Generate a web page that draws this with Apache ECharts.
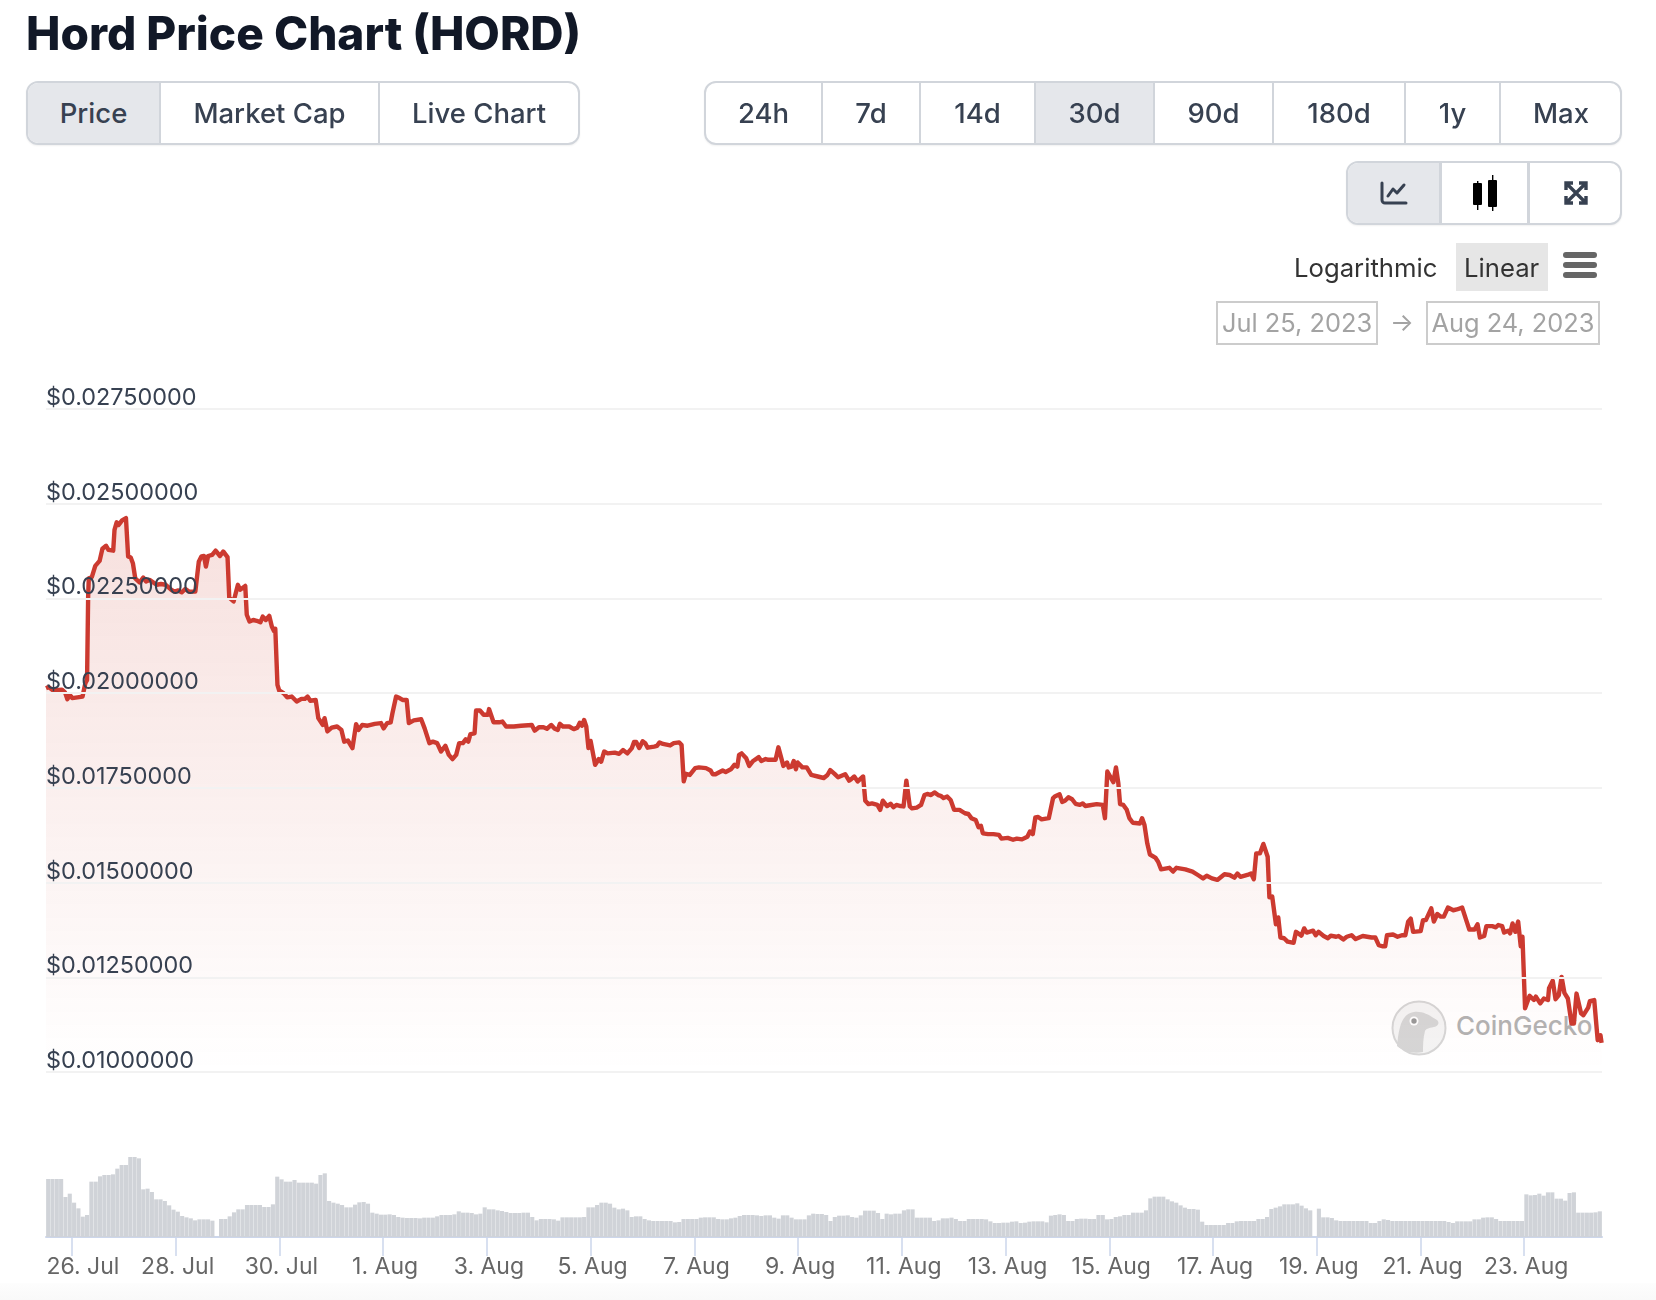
<!DOCTYPE html>
<html><head><meta charset="utf-8"><title>Hord Price Chart (HORD)</title>
<script src="https://cdn.jsdelivr.net/npm/echarts@6/dist/echarts.min.js"></script>
<style>
html,body{margin:0;padding:0;background:#fff;width:1656px;height:1300px;overflow:hidden;font-family:Inter,sans-serif}
#wm,#chart,.abs{position:absolute}
#chart{left:0;top:0;width:1656px;height:1300px;z-index:1}
#band{position:absolute;left:0;top:1283px;width:1656px;height:17px;background:linear-gradient(#fdfdfd,#f9f9f9)}
.grp{position:absolute;box-sizing:border-box;border:2px solid #d1d5db;border-radius:12px;background:#fff;box-shadow:0 1px 2px rgba(0,0,0,.06);overflow:hidden;z-index:2}
.btn{position:absolute;top:0;bottom:0;box-sizing:border-box;display:flex;align-items:center;justify-content:center;color:#374151;font-size:27.5px;font-weight:500;border-right:2px solid #d1d5db}
.btn.last{border-right:none}
.btn.on{background:#e5e7eb}
.txt{position:absolute;z-index:2;white-space:nowrap}
.box{position:absolute;box-sizing:border-box;border:2px solid #ccc;color:#a3a3a3;font-size:25.4px;padding-bottom:2px;display:flex;align-items:center;justify-content:center;z-index:2}
.hb{position:absolute;left:1563px;width:34px;height:6px;border-radius:3px;background:#666;z-index:2}
</style></head><body>
<div id="band"></div>
<svg id="wm" style="left:1390px;top:998px;z-index:0" width="60" height="60" viewBox="0 0 60 60">
<circle cx="29" cy="30" r="26.5" fill="#f4f4f4" stroke="#d6d6d6" stroke-width="2"/>
<path d="M7 48 C9 30 11 16 24 14 C34 13 40 18 47 22 C50 25 48 28 44 29 C38 30 36 31 35 33 C33 40 33 48 33 54 C22 56 13 53 7 48Z" fill="#d6d6d6"/>
<circle cx="24" cy="23" r="4.5" fill="#fff"/><circle cx="24" cy="23" r="2.7" fill="#999"/>
</svg>
<div class="txt" id="wmt" style="left:1456px;top:1010px;font-size:26px;font-weight:500;color:#b3b3b3;z-index:0">CoinGecko</div>
<div id="chart"></div>

<div class="grp" style="left:26px;top:81px;width:554px;height:64px">
<div class="btn on" style="left:0;width:133px">Price</div>
<div class="btn" style="left:133px;width:219px">Market Cap</div>
<div class="btn last" style="left:352px;width:198px">Live Chart</div></div>

<div class="grp" style="left:704px;top:81px;width:918px;height:64px">
<div class="btn" style="left:0;width:117px">24h</div>
<div class="btn" style="left:117px;width:98px">7d</div>
<div class="btn" style="left:215px;width:115px">14d</div>
<div class="btn on" style="left:330px;width:119px">30d</div>
<div class="btn" style="left:449px;width:119px">90d</div>
<div class="btn" style="left:568px;width:132px">180d</div>
<div class="btn" style="left:700px;width:95px">1y</div>
<div class="btn last" style="left:795px;width:120px">Max</div></div>

<div class="grp" style="left:1346px;top:161px;width:276px;height:64px">
<div class="btn on" style="left:0;width:94px;border-right-width:3px"><svg width="28" height="24" viewBox="0 0 28 24" fill="none" stroke="#374151" stroke-width="3" stroke-linecap="round" stroke-linejoin="round"><path d="M2 2V19a3 3 0 0 0 3 3H26"/><path d="M8 15L13 8L17 12L24 4"/></svg></div>
<div class="btn" style="left:94px;width:88px;border-right-width:3px"><svg width="28" height="36" viewBox="0 0 28 36"><rect x="2" y="8" width="9" height="22" fill="#000" rx="1"/><rect x="6" y="6" width="1.4" height="29" fill="#000"/><rect x="17" y="5" width="9" height="27" fill="#000" rx="1"/><rect x="21" y="0" width="1.4" height="36" fill="#000"/></svg></div>
<div class="btn last" style="left:182px;width:92px"><svg width="24" height="24" viewBox="0 0 24 24" fill="none" stroke="#374151" stroke-width="3.4"><path d="M2 9V2H9M15 2H22V9M22 15V22H15M9 22H2V15M3 3L21 21M21 3L3 21"/></svg></div></div>

<div class="txt" style="left:1294px;top:252px;font-size:25.7px;color:#333">Logarithmic</div>
<div class="abs" style="left:1456px;top:243px;width:92px;height:48px;background:#e6e6e6;z-index:1"></div>
<div class="txt" style="left:1464px;top:252px;font-size:25.7px;color:#333">Linear</div>
<div class="hb" style="top:252px"></div><div class="hb" style="top:262px"></div><div class="hb" style="top:272px"></div>
<div class="box" style="left:1216px;top:301px;width:162px;height:44px">Jul 25, 2023</div>
<div class="txt" style="left:1390px;top:307px;font-size:25px;color:#a3a3a3">→</div>
<div class="box" style="left:1426px;top:301px;width:174px;height:44px">Aug 24, 2023</div>

<script>
// Price: [hours after 25 Jul 12:00 UTC, USD]
const pricePoints = [
[0,0.02013],[1.2,0.02016],[3.3,0.02007],[7.4,0.02009],[8.8,0.02002],[9.9,0.01984],[11.1,0.01995],[12.1,0.01987],[16.9,0.01991],[18.2,0.02026],[19,0.02035],[19.5,0.02255],[19.8,0.02303],[21.2,0.02306],[22.8,0.02336],[24.8,0.02349],[26.1,0.02381],[27.8,0.02389],[28.9,0.02378],[31.1,0.02376],[31.7,0.02431],[32.7,0.02451],[33.6,0.02444],[35.2,0.02456],[37,0.02462],[38,0.02361],[39.2,0.02358],[40.2,0.02343],[41.3,0.02303],[43.3,0.02292],[45,0.02305],[46.3,0.02295],[47.9,0.02299],[51.2,0.02286],[53.2,0.02288],[55.4,0.02286],[57.9,0.02273],[59.5,0.02268],[61.2,0.02271],[62.8,0.02266],[64.5,0.02275],[66.1,0.02268],[69.1,0.02268],[70.7,0.02347],[71.9,0.02361],[73.1,0.02362],[74,0.02334],[75,0.02362],[76.9,0.02365],[78.5,0.02376],[80.5,0.02362],[82,0.02374],[84,0.02359],[84.8,0.02252],[86.8,0.02242],[88.8,0.02286],[89.8,0.02273],[92.2,0.02283],[92.9,0.02207],[94.2,0.02189],[95.9,0.02193],[97.5,0.02191],[98.3,0.02196],[99.2,0.02187],[100.3,0.02202],[101.7,0.02193],[103.3,0.02204],[104.5,0.02176],[105.5,0.02164],[106.1,0.0217],[107.1,0.02022],[107.9,0.02007],[109.9,0.02],[111.6,0.01989],[113.7,0.01991],[116,0.01978],[118.2,0.01985],[119.8,0.01985],[121,0.01991],[122.3,0.0198],[124.8,0.01982],[126,0.01934],[128.1,0.01916],[128.9,0.01934],[130.2,0.01899],[132.2,0.01909],[134.7,0.01912],[136.7,0.01903],[138,0.01872],[139.7,0.01875],[141.8,0.01855],[143.5,0.01918],[144.6,0.01903],[146.3,0.01916],[148.8,0.01914],[152.1,0.01919],[155,0.01921],[156.2,0.01907],[157.9,0.01921],[159.5,0.01923],[160.3,0.01947],[161,0.0195],[162,0.01991],[163.6,0.01987],[165,0.01982],[166.9,0.01982],[167.9,0.01921],[170.2,0.01928],[173.6,0.01931],[175.2,0.01907],[177.4,0.01868],[179,0.01872],[181,0.01868],[182.8,0.01846],[184.8,0.01861],[186.4,0.01837],[188.1,0.01826],[189.8,0.01837],[191.2,0.01868],[192.9,0.01868],[194.2,0.01878],[195.4,0.01872],[196.4,0.01892],[198.3,0.01894],[199,0.01954],[200.8,0.01954],[202.5,0.01943],[204.5,0.01943],[205,0.01958],[207.1,0.01923],[209.6,0.01923],[211.2,0.01925],[212.9,0.01912],[216.5,0.01912],[219.8,0.01914],[224.8,0.01916],[226.1,0.01901],[228.1,0.0191],
[230.2,0.0191],[231.8,0.01906],[233.8,0.01916],[235.4,0.01906],[236.8,0.01903],[237.8,0.01919],[239.2,0.01912],[242.1,0.01912],[244.2,0.01905],[245.9,0.01909],[247,0.01922],[248,0.01914],[249,0.01929],[250,0.01912],[251,0.01855],[252,0.01874],[254.1,0.01811],[254.9,0.01808],[255.8,0.01826],[256.9,0.01819],[258.3,0.01846],[259.9,0.01841],[263.2,0.01843],[264,0.01848],[265.2,0.0184],[267,0.0185],[269,0.01841],[271.1,0.01855],[272.1,0.01871],[273.1,0.01871],[274.5,0.01855],[276.1,0.01873],[277.3,0.01868],[278.4,0.01856],[281.4,0.01859],[282.7,0.01861],[283.9,0.0187],[285.5,0.01866],[288.8,0.01862],[290.5,0.01868],[293,0.0187],[294.1,0.01863],[295.1,0.01767],[296.1,0.01787],[297.9,0.01784],[300.4,0.01802],[302.1,0.01804],[305.4,0.01802],[307.5,0.01796],[308.5,0.01786],[309.8,0.01786],[311.1,0.0179],[312,0.01786],[313.1,0.01796],[314.5,0.01792],[316.9,0.01799],[318.6,0.01811],[319.9,0.01806],[320.7,0.01837],[321.9,0.01841],[324,0.01828],[325.4,0.01808],[327.2,0.01821],[328.5,0.01826],[329.8,0.01831],[331,0.01821],[333,0.01826],[334.3,0.01824],[335.9,0.01824],[336.8,0.01826],[337.6,0.01824],[338.9,0.01857],[341.2,0.01808],[342.9,0.01817],[343.7,0.01804],[345,0.01806],[346,0.01821],[347,0.01799],[347.8,0.01817],[350,0.01804],[352,0.01804],[354.1,0.01784],[357.1,0.0178],[357.9,0.01784],[359.9,0.01776],[361.6,0.01784],[362.9,0.01797],[364.9,0.01787],[366.5,0.01778],[369.8,0.01786],[371.6,0.01769],[372.6,0.01773],[374,0.0178],[375.6,0.01767],[378.1,0.0178],[379.1,0.01716],[380.6,0.01707],[382.2,0.01709],[384.7,0.01705],[386,0.01692],[387.2,0.01716],[388,0.01718],[389.2,0.01702],[390.8,0.01708],[392.1,0.01699],[393.5,0.01705],[395.4,0.01702],[396.8,0.01701],[398.1,0.01769],[399.7,0.01701],[400.7,0.01696],[402.9,0.01698],[404.9,0.01705],[406.5,0.01731],[407.8,0.01734],[409.5,0.01731],[411.1,0.01738],[412.8,0.01731],[414,0.01729],[415.3,0.01723],[417,0.01727],[418.6,0.01718],[420.2,0.01692],[422.7,0.01692],[425.2,0.01683],[426.8,0.01681],[428.2,0.0167],[430.2,0.01665],[431.5,0.01646],[432.6,0.0165],[433.5,0.0163],[435.9,0.01628],[438.4,0.01628],[440.9,0.01626],[442.1,0.01616],[445,0.01618],[447.5,0.01613],[449.2,0.01616],[451.6,0.01614],[454.1,0.01621],[455.3,0.01635],[456.6,0.01628],[457.8,0.01672],[459.1,0.01673],[460.7,0.01667],[464,0.0167],[466,0.01723],[467,0.01728],[469,0.01733],[470.2,0.01713],[471.5,0.01716],[473.1,0.01725],[474.8,0.0172],[476.4,0.01708],[478.4,0.01705],[479.7,0.01709],[480.9,0.01702],[483,0.01704],
[486.2,0.01707],[489,0.01705],[490,0.0167],[491.1,0.01793],[493.9,0.01765],[495.1,0.01804],[496.2,0.01762],[497,0.01707],[498.5,0.01705],[500.1,0.01692],[501.3,0.0167],[502.9,0.01658],[506.2,0.01656],[507.2,0.0167],[508.3,0.01652],[509.6,0.01603],[510.8,0.01574],[513.3,0.01566],[514.6,0.01555],[516,0.01535],[519.8,0.01539],[521.5,0.01529],[523.1,0.01539],[527.2,0.01535],[530.5,0.01529],[533,0.0152],[535.4,0.01511],[537.1,0.01518],[539.5,0.01511],[542,0.01507],[545.3,0.01522],[547.7,0.0152],[549.9,0.01513],[551.3,0.01524],[552.7,0.01515],[555.9,0.0152],[557.6,0.01524],[558.9,0.01509],[560,0.01577],[561.7,0.01577],[563.3,0.01602],[565.3,0.01568],[566.1,0.01461],[567.4,0.01463],[569.1,0.0139],[570.2,0.01408],[571.2,0.01355],[572.9,0.01353],[574.5,0.01344],[577.3,0.01341],[578.4,0.0137],[579.3,0.01375],[580.9,0.0136],[582.2,0.01379],[583.4,0.01368],[586.3,0.01373],[587.5,0.01361],[588.8,0.0137],[591.2,0.01359],[593.2,0.01353],[594.5,0.0136],[597,0.01357],[598.1,0.01359],[600.3,0.0135],[601.9,0.01357],[604.1,0.01361],[606,0.01351],[609.3,0.01359],[613.4,0.01355],[615.1,0.01355],[616.7,0.01335],[618.3,0.01332],[619.7,0.01332],[620.5,0.01361],[623.3,0.01363],[625.4,0.01357],[627.4,0.01361],[629,0.01361],[630.3,0.01397],[631.5,0.01405],[632.6,0.0137],[636.1,0.01372],[637.2,0.01401],[638.5,0.01401],[641,0.01432],[642.2,0.01397],[643.8,0.01417],[645.4,0.0141],[646.8,0.0141],[648.7,0.01434],[651.2,0.01427],[652.8,0.01429],[655.3,0.01434],[657.4,0.01397],[658.6,0.01376],[661,0.01376],[662.4,0.0139],[663.5,0.01355],[665.5,0.01359],[666.5,0.01385],[669.2,0.01385],[670.9,0.01382],[672,0.01388],[673.8,0.01385],[674.7,0.01368],[676.6,0.01373],[677.5,0.01366],[678.6,0.01392],[679.9,0.0137],[681.2,0.01397],[682.4,0.01332],[683.2,0.01357],[684.4,0.01168],[686.5,0.01201],[688.5,0.0119],[689.4,0.01199],[691.4,0.01181],[693.1,0.01194],[695,0.0119],[695.5,0.01221],[697.2,0.01241],[698.5,0.01192],[700,0.01203],[701.3,0.01251],[702.6,0.01209],[704.2,0.01194],[705.9,0.01128],[707,0.01128],[708.2,0.01207],[710.3,0.01155],[711.4,0.0115],[713.6,0.0117],[714.4,0.01187],[716.4,0.0119],[718,0.01084],[719.3,0.01097],[719.8,0.01077],[720,0.01077]
];
// Volume, one value for every two hours (relative units)
const volume = [
174,174,174,174,120,130,103,86,61,66,166,166,182,186,186,188,205,216,216,240,240,236,143,145,135,113,113,108,95,82,76,63,59,56,50,53,53,53,49,0,
54,54,62,74,83,83,96,96,96,96,90,90,98,181,173,166,166,171,163,163,163,163,160,186,191,108,103,100,96,89,89,97,104,105,100,73,70,67,67,68,
66,60,58,57,57,57,56,58,58,58,62,66,66,66,68,77,73,73,72,68,70,89,83,83,80,78,75,72,72,72,73,73,60,50,54,54,54,53,49,59,
59,59,59,59,60,89,89,96,103,103,100,88,83,85,80,60,62,62,54,50,48,48,48,48,48,44,45,54,54,54,54,58,59,59,59,54,53,53,56,58,
63,66,66,66,65,63,65,65,58,55,65,65,58,53,53,53,65,70,69,69,66,48,60,64,64,65,60,58,65,79,79,79,72,54,70,68,70,70,80,83,
83,58,58,58,58,48,50,56,56,58,54,48,48,54,54,54,54,53,47,42,42,43,43,46,47,42,43,46,47,47,47,44,64,66,68,66,48,48,54,55,
55,54,54,66,66,53,54,60,62,66,66,73,73,73,80,116,121,121,121,113,107,103,95,88,84,84,82,46,36,36,36,36,36,42,42,47,48,48,48,48,
54,54,60,84,88,92,98,98,98,101,94,86,80,0,85,59,59,57,50,48,48,48,48,48,48,48,42,42,48,53,51,48,48,48,48,48,48,48,48,48,
48,48,48,48,45,42,47,47,47,47,53,53,58,59,59,54,48,48,48,48,48,48,128,125,126,130,124,134,134,115,115,109,132,134,73,73,73,73,74,77
];
const axisDays = ['2023-07-26','2023-07-28','2023-07-30','2023-08-01','2023-08-03','2023-08-05','2023-08-07','2023-08-09','2023-08-11','2023-08-13','2023-08-15','2023-08-17','2023-08-19','2023-08-21','2023-08-23'];
const monthNames = ['Jan','Feb','Mar','Apr','May','Jun','Jul','Aug','Sep','Oct','Nov','Dec'];
const priceMin = 0.01, priceMax = 0.0275, priceStep = 0.0025;
const H = 3600000, t0 = Date.UTC(2023,6,25,12), spanHours = 720;
const tickHours = axisDays.map(d => (Date.parse(d+'T00:00:00Z')-t0)/H);
const chart = echarts.init(document.getElementById('chart'), null, {width:1656,height:1300});
const FONT = 'Inter';
chart.setOption({
  animation:false,
  backgroundColor:'transparent',
  title:{text:'Hord Price Chart (HORD)',left:26,top:13,padding:0,textStyle:{fontFamily:FONT,fontSize:46,fontWeight:800,color:'#111827'}},
  grid:[{left:46,right:54,top:409,height:663},{left:46,right:54,top:1150,height:87}],
  xAxis:[
    {type:'value',gridIndex:0,min:0,max:spanHours,show:false,splitLine:{show:false}},
    {type:'value',gridIndex:1,min:0,max:spanHours,
     axisLine:{show:true,onZero:false,lineStyle:{color:'#ccd6eb',width:2}},
     axisTick:{show:true,length:19,customValues:tickHours,lineStyle:{color:'#ccd6eb',width:1.5}},
     splitLine:{show:false},
     axisLabel:{customValues:tickHours,hideOverlap:false,showMinLabel:true,showMaxLabel:true,margin:19,padding:[0,0,0,4],color:'#666',fontFamily:FONT,fontSize:23,
       formatter:v=>{const d=new Date(t0+v*H);const s=d.getUTCDate()+'. '+monthNames[d.getUTCMonth()];return v===tickHours[0]?'{first|'+s+'}':s;},
       rich:{first:{padding:[0,0,0,18],color:'#666',fontFamily:FONT,fontSize:23}}}}
  ],
  yAxis:[
    {type:'value',gridIndex:0,min:priceMin,max:priceMax,interval:priceStep,z:10,position:'left',
     axisLine:{show:false},axisTick:{show:false},
     splitLine:{show:true,lineStyle:{color:'#f2f2f2',width:2}},
     axisLabel:{inside:true,margin:0,color:'#374151',fontFamily:FONT,fontSize:23.4,verticalAlign:'bottom',lineHeight:22,align:'left',formatter:v=>'$'+v.toFixed(8)}},
    {type:'value',gridIndex:1,min:0,max:261,show:false,splitLine:{show:false}}
  ],
  series:[
    {type:'line',name:'Price',xAxisIndex:0,yAxisIndex:0,z:3,showSymbol:false,
     data:pricePoints,
     lineStyle:{color:'#cc3a30',width:4.4,join:'round'},
     areaStyle:{color:new echarts.graphic.LinearGradient(0,0,0,1,[{offset:0,color:'rgba(205,65,50,0.23)'},{offset:1,color:'rgba(205,65,50,0)'}])}},
    {type:'bar',name:'Volume',xAxisIndex:1,yAxisIndex:1,barWidth:4.1,
     data:volume.map((v,i)=>[2*i+1,v]),itemStyle:{color:'#d0d3d8'}}
  ]
});
</script>
</body></html>
